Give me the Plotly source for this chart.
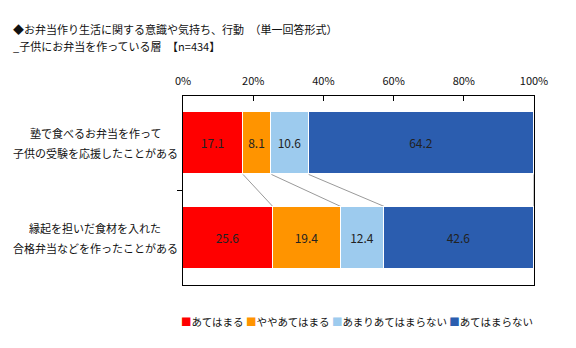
import plotly.graph_objects as go

categories = [["塾で食べるお弁当を作って", "子供の受験を応援したことがある"],
              ["縁起を担いだ食材を入れた", "合格弁当などを作ったことがある"]]
series_names = ["あてはまる", "ややあてはまる", "あまりあてはまらない", "あてはまらない"]
series_values = [
    [17.1, 25.6],
    [8.1, 19.4],
    [10.6, 12.4],
    [64.2, 42.6],
]
colors = ["#FF0000", "#FF9400", "#9DCBEE", "#2B5DAF"]
x_ticks = [0, 20, 40, 60, 80, 100]
title_line1 = "◆お弁当作り生活に関する意識や気持ち、行動　（単一回答形式）"
title_line2 = "_子供にお弁当を作っている層　【n=434】"

FONT = "Noto Sans CJK JP, sans-serif"
ypos = list(range(len(categories)))
bar_w = 0.66

fig = go.Figure()
for name, vals, col in zip(series_names, series_values, colors):
    fig.add_trace(go.Bar(
        y=ypos, x=vals, name=name, orientation="h", width=bar_w,
        marker=dict(color=col, line=dict(color="white", width=1)),
        text=[f"{v:.1f}" for v in vals], textposition="inside",
        insidetextanchor="middle", textangle=0, constraintext="none",
        textfont=dict(family=FONT, size=12, color="#222222"),
        hoverinfo="skip", showlegend=False,
    ))

# connector lines between cumulative boundaries
cum = [[0.0] * len(categories) for _ in range(len(series_names))]
for j in range(len(categories)):
    s = 0.0
    for i in range(len(series_names)):
        s += series_values[i][j]
        cum[i][j] = s
shapes = []
for i in range(len(series_names)):
    shapes.append(dict(type="line", xref="x", yref="y",
                       x0=cum[i][0], y0=ypos[0] + bar_w / 2,
                       x1=cum[i][1], y1=ypos[1] - bar_w / 2,
                       line=dict(color="#9A9A9A", width=1), layer="below"))

annotations = []
label_center_x = -0.25  # paper coords, centre of the category labels
for yp, lines in zip(ypos, categories):
    for k, line in enumerate(lines):
        annotations.append(dict(xref="paper", yref="y", x=-0.25, y=yp,
                                xanchor="center", yanchor="middle",
                                yshift=10 if k == 0 else -10, showarrow=False,
                                text=line, font=dict(family=FONT, size=11, color="#111111")))

annotations.append(dict(xref="paper", yref="paper", x=-0.49, y=1.352, xanchor="left",
                        yanchor="middle", showarrow=False, align="left",
                        text=title_line1, font=dict(family=FONT, size=11, color="#111111")))
annotations.append(dict(xref="paper", yref="paper", x=-0.49, y=1.267, xanchor="left",
                        yanchor="middle", showarrow=False, align="left",
                        text=title_line2, font=dict(family=FONT, size=11, color="#111111")))

legend_text = " ".join(
    f"<span style='color:{c}'>■</span>{n}" for n, c in zip(series_names, colors)
)
annotations.append(dict(xref="paper", yref="paper", x=0.495, y=-0.195, xanchor="center",
                        yanchor="middle", showarrow=False, text=legend_text,
                        font=dict(family=FONT, size=10.5, color="#111111")))

fig.update_layout(
    width=576, height=348,
    margin=dict(l=183, r=42, t=96, b=63),
    paper_bgcolor="white", plot_bgcolor="white",
    barmode="stack", bargap=0,
    shapes=shapes, annotations=annotations,
    font=dict(family=FONT, size=11, color="#111111"),
    xaxis=dict(side="top", range=[0, 100], tickvals=x_ticks,
               ticktext=[f"{t}%" for t in x_ticks], ticks="inside", ticklen=5,
               tickcolor="black", showline=True, linecolor="black", linewidth=1,
               mirror=True, showgrid=False, zeroline=False, ticklabelstandoff=6,
               tickfont=dict(family=FONT, size=11, color="#111111")),
    yaxis=dict(range=[1.5, -0.5], tickvals=[0.5], ticktext=[""], ticks="outside",
               ticklen=5, tickcolor="black", showline=True, linecolor="black",
               linewidth=1, mirror=True, showgrid=False, zeroline=False,
               showticklabels=False),
)

fig.write_html("out.html")
